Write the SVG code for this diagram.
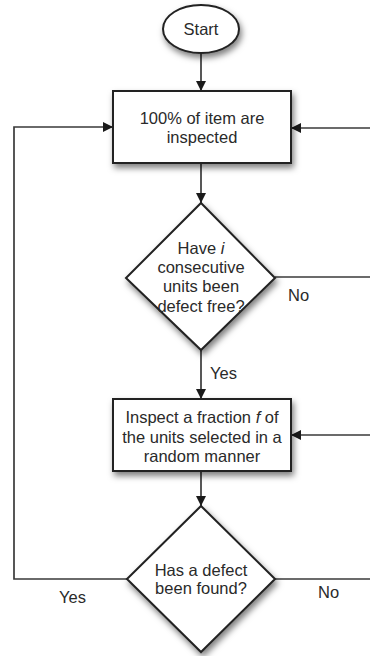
<svg xmlns="http://www.w3.org/2000/svg" width="370" height="656" viewBox="0 0 370 656">
<defs>
<filter id="sh" x="-20%" y="-20%" width="150%" height="150%">
<feDropShadow dx="2" dy="4" stdDeviation="3" flood-color="#000" flood-opacity="0.5"/>
</filter>
<marker id="ah" viewBox="0 0 10 10" refX="10" refY="5" markerWidth="10" markerHeight="10" markerUnits="userSpaceOnUse" orient="auto">
<path d="M0,0 L10,5 L0,10 Z" fill="#1a1a1a"/>
</marker>
<style>
.shape{fill:#fff;stroke:#222;stroke-width:2;filter:url(#sh)}
.t{font-family:"Liberation Sans",Arial,sans-serif;font-size:16.5px;fill:#2a2a2a;text-anchor:middle}
.lbl{font-family:"Liberation Sans",Arial,sans-serif;font-size:16.5px;fill:#2a2a2a}
.c{fill:none;stroke:#3a3a3a;stroke-width:1.7}
</style>
</defs>
<rect width="370" height="656" fill="#fff"/>
<g id="connectors">
<line class="c" x1="201" y1="53" x2="201" y2="91" marker-end="url(#ah)"/>
<line class="c" x1="201" y1="163" x2="201" y2="203" marker-end="url(#ah)"/>
<line class="c" x1="201" y1="350" x2="201" y2="399" marker-end="url(#ah)"/>
<line class="c" x1="201" y1="471" x2="201" y2="506" marker-end="url(#ah)"/>
<polyline class="c" points="127,579 14,579 14,127 113,127" marker-end="url(#ah)"/>
<line class="c" x1="370" y1="128" x2="291" y2="128" marker-end="url(#ah)"/>
<line class="c" x1="275" y1="277" x2="370" y2="277"/>
<line class="c" x1="370" y1="435" x2="291" y2="435" marker-end="url(#ah)"/>
<line class="c" x1="275" y1="579" x2="370" y2="579"/>
<text class="lbl" x="288" y="301">No</text>
<text class="lbl" x="210" y="379">Yes</text>
<text class="lbl" x="59" y="603">Yes</text>
<text class="lbl" x="318" y="598">No</text>
</g>
<g id="start">
<ellipse class="shape" cx="201" cy="29" rx="38" ry="24"/>
<text class="t" x="201" y="35">Start</text>
</g>
<g id="inspect-all">
<rect class="shape" x="113" y="91" width="178" height="72"/>
<text class="t" x="202" y="124">100% of item are</text>
<text class="t" x="202" y="143">inspected</text>
</g>
<g id="decision-free">
<polygon class="shape" points="201,203 275,278 201,350 126,278"/>
<text class="t" x="201" y="254">Have <tspan font-style="italic">i</tspan></text>
<text class="t" x="201" y="273">consecutive</text>
<text class="t" x="201" y="292">units been</text>
<text class="t" x="201" y="312">defect free?</text>
</g>
<g id="inspect-fraction">
<rect class="shape" x="113" y="399" width="178" height="72"/>
<text class="t" x="202" y="423">Inspect a fraction <tspan font-style="italic">f</tspan> of</text>
<text class="t" x="202" y="443">the units selected in a</text>
<text class="t" x="202" y="462">random manner</text>
</g>
<g id="decision-defect">
<polygon class="shape" points="201,506 275,579 201,652 127,579"/>
<text class="t" x="201" y="576">Has a defect</text>
<text class="t" x="201" y="594">been found?</text>
</g>
</svg>
